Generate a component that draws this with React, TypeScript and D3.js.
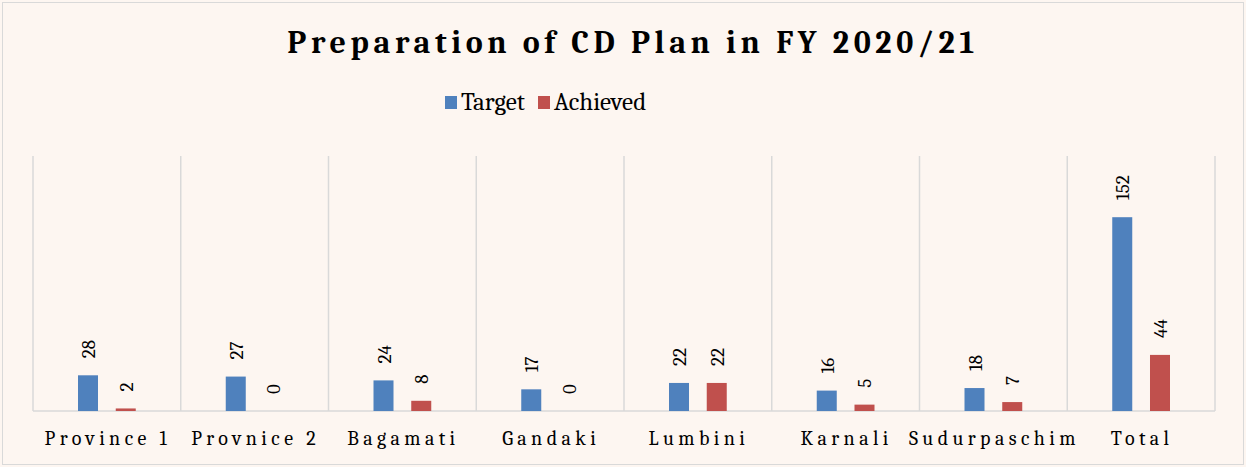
import { useEffect, useRef } from "react";
import * as d3 from "d3";

const categories = ["Province 1", "Provnice 2", "Bagamati", "Gandaki", "Lumbini", "Karnali", "Sudurpaschim", "Total"];
const target = [28, 27, 24, 17, 22, 16, 18, 152];
const achieved = [2, 0, 8, 0, 22, 5, 7, 44];
const seriesNames = ["Target", "Achieved"];
const colors = ["#4F81BD", "#C0504D"];

const W = 1246;
const H = 467;

const App = () => {
  const ref = useRef<SVGSVGElement>(null);

  useEffect(() => {
    const svg = d3.select(ref.current);
    svg.selectAll("*").remove();

    const margin = { top: 156, right: 31, bottom: 56, left: 33 };
    const serif = "Cambria, 'Liberation Serif', 'DejaVu Serif', serif";

    // background + outline
    svg.append("rect").attr("width", W).attr("height", H).attr("fill", "#FDF6F1");
    svg
      .append("rect")
      .attr("x", 2.5)
      .attr("y", 2.5)
      .attr("width", W - 5)
      .attr("height", H - 5)
      .attr("fill", "none")
      .attr("stroke", "#d9d9d9");

    const x = d3
      .scaleBand()
      .domain(categories)
      .range([margin.left, W - margin.right]);

    // bars sit in the middle of each category, ~45px gap at either side
    const inner = d3
      .scaleBand()
      .domain(seriesNames)
      .range([45, x.bandwidth() - 45])
      .paddingInner(0.47);

    const y = d3
      .scaleLinear()
      .domain([0, 200])
      .range([H - margin.bottom, margin.top]);

    // vertical gridlines at category boundaries
    const bounds = categories.map((c) => x(c)).concat([W - margin.right]);
    svg
      .append("g")
      .selectAll("line")
      .data(bounds)
      .enter()
      .append("line")
      .attr("x1", (d) => d)
      .attr("x2", (d) => d)
      .attr("y1", margin.top)
      .attr("y2", y(0))
      .attr("stroke", "#d9d9d9")
      .attr("stroke-width", 1.5);

    // baseline
    svg
      .append("line")
      .attr("x1", margin.left)
      .attr("x2", W - margin.right)
      .attr("y1", y(0))
      .attr("y2", y(0))
      .attr("stroke", "#d9d9d9")
      .attr("stroke-width", 1.5);

    const rows = categories.map((c, i) => ({ cat: c, values: [target[i], achieved[i]] }));

    const groups = svg
      .append("g")
      .selectAll("g")
      .data(rows)
      .enter()
      .append("g")
      .attr("transform", (d) => `translate(${x(d.cat)},0)`);

    groups
      .selectAll("rect")
      .data((d) => d.values.map((v, j) => ({ v, s: seriesNames[j], j })))
      .enter()
      .append("rect")
      .attr("x", (d) => inner(d.s))
      .attr("y", (d) => y(d.v))
      .attr("width", inner.bandwidth())
      .attr("height", (d) => y(0) - y(d.v))
      .attr("fill", (d) => colors[d.j]);

    // rotated value labels
    groups
      .selectAll("text")
      .data((d) => d.values.map((v, j) => ({ v, s: seriesNames[j] })))
      .enter()
      .append("text")
      .attr(
        "transform",
        (d) => `translate(${inner(d.s) + inner.bandwidth() / 2 + 7},${y(d.v) - 17}) rotate(-90)`
      )
      .attr("text-anchor", "start")
      .attr("font-family", serif)
      .attr("font-size", 19)
      .attr("fill", "#000")
      .text((d) => d.v);

    // category labels
    svg
      .append("g")
      .selectAll("text")
      .data(categories)
      .enter()
      .append("text")
      .attr("x", (d) => x(d) + x.bandwidth() / 2 + 1)
      .attr("y", 445)
      .attr("text-anchor", "middle")
      .attr("font-family", serif)
      .attr("font-size", 20)
      .attr("letter-spacing", 4.4)
      .attr("fill", "#000")
      .text((d) => d);

    // title
    svg
      .append("text")
      .attr("x", W / 2 + 10)
      .attr("y", 53)
      .attr("text-anchor", "middle")
      .attr("font-family", serif)
      .attr("font-weight", "bold")
      .attr("font-size", 32)
      .attr("letter-spacing", 4.6)
      .attr("fill", "#000")
      .text("Preparation of CD Plan in FY 2020/21");

    // legend
    const legendX = [445, 538];
    const legend = svg
      .append("g")
      .selectAll("g")
      .data(seriesNames)
      .enter()
      .append("g")
      .attr("transform", (d, i) => `translate(${legendX[i]},96)`);
    legend
      .append("rect")
      .attr("width", 12)
      .attr("height", 13)
      .attr("fill", (d, i) => colors[i]);
    legend
      .append("text")
      .attr("x", 16)
      .attr("y", 14)
      .attr("font-family", serif)
      .attr("font-size", 25)
      .attr("fill", "#000")
      .text((d) => d);
  }, []);

  return (
    <svg
      ref={ref}
      width={W}
      height={H}
      style={{ position: "absolute", left: 0, top: 0, display: "block" }}
    />
  );
};

export default App;
